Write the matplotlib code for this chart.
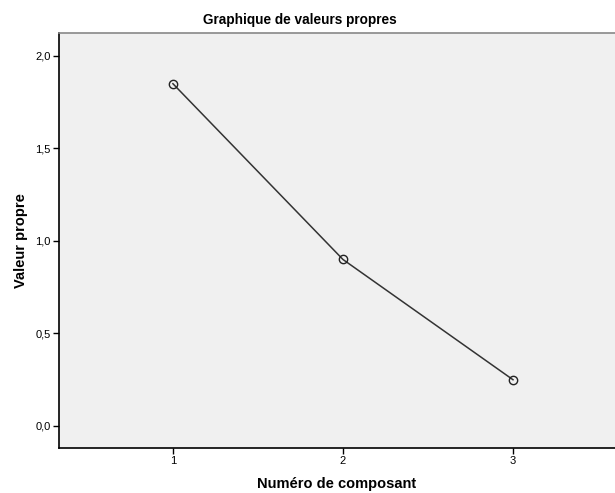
import matplotlib
matplotlib.use("Agg")
import matplotlib.pyplot as plt
from matplotlib.ticker import FuncFormatter

plt.rcParams['font.family'] = ['Liberation Sans', 'DejaVu Sans']

components = [1, 2, 3]
eigenvalues = [1.85, 0.90, 0.25]
y_ticks = [0.0, 0.5, 1.0, 1.5, 2.0]

W, H = 615, 493
fig = plt.figure(figsize=(W / 100, H / 100), dpi=100)
fig.patch.set_facecolor('white')
left, top, right, bottom = 59, 33, 615, 448
ax = fig.add_axes([left / W, 1 - bottom / H, (right - left) / W, (bottom - top) / H])
ax.set_facecolor('#f0f0f0')

ax.plot(components, eigenvalues, color='#333333', linewidth=1.1,
        marker='o', markersize=6, markerfacecolor='none',
        markeredgecolor='#222222', markeredgewidth=1.0)

ax.set_xlim(0.33, 3.6)
ax.set_ylim(-0.119, 2.124)
ax.set_xticks(components)
ax.set_yticks(y_ticks)
ax.yaxis.set_major_formatter(FuncFormatter(lambda v, p: f"{v:.1f}".replace('.', ',')))
ax.tick_params(axis='both', labelsize=8, length=4, width=1, color='black', direction='out', pad=2)

for s in ['left', 'bottom']:
    ax.spines[s].set_color('black')
    ax.spines[s].set_linewidth(1.2)
ax.spines['top'].set_color('#888888')
ax.spines['top'].set_linewidth(1.2)
ax.spines['right'].set_visible(False)

fig.text(300 / W, 1 - 20 / H, 'Graphique de valeurs propres', fontsize=9.8,
         fontweight='bold', ha='center', va='center')
ax.set_xlabel('Numéro de composant', fontsize=10.5, fontweight='bold', labelpad=8)
ax.set_ylabel('Valeur propre', fontsize=10.5, fontweight='bold', labelpad=5)

fig.savefig('out.png', dpi=100)
